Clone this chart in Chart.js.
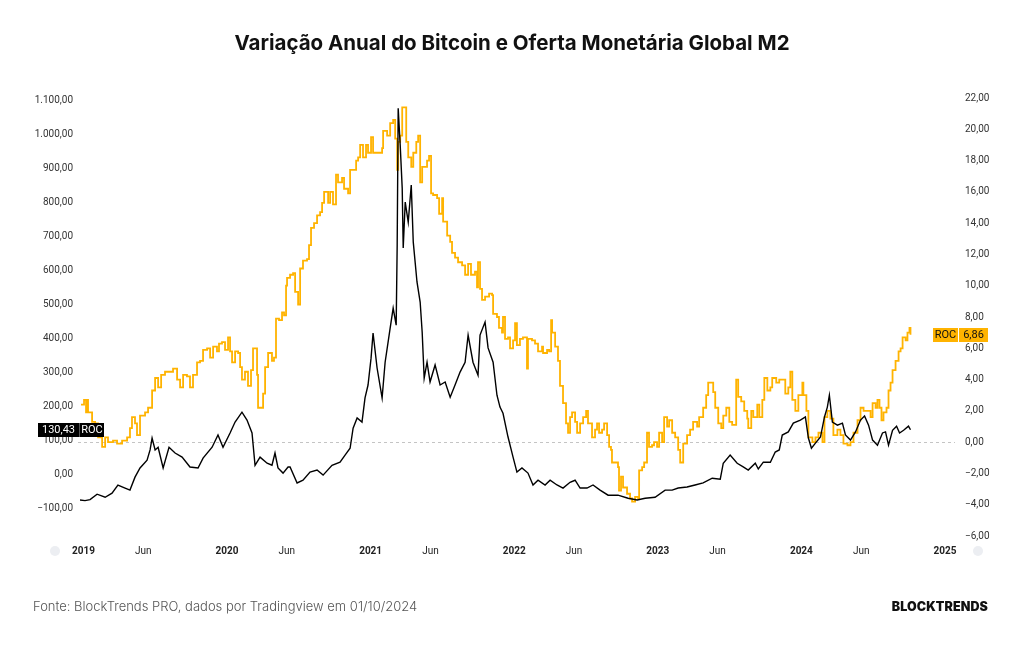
<!DOCTYPE html>
<html><head><meta charset="utf-8">
<script src="https://cdn.jsdelivr.net/npm/chart.js@4.4.1/dist/chart.umd.min.js"></script>
<style>
html,body{margin:0;padding:0;background:#fff;}
#wrap{position:relative;width:1024px;height:645px;overflow:hidden;background:#fff;}
#title{position:absolute;top:30px;left:0;width:1024px;text-align:center;font:700 20.5px Inter,sans-serif;color:#111;}
#src{position:absolute;left:33px;top:598px;font:300 13px Inter,sans-serif;color:#555;}
#brand{position:absolute;right:36px;top:599px;font:900 12.5px Inter,sans-serif;color:#111;letter-spacing:0.1px;}
#c{position:absolute;left:0;top:0;}
</style></head>
<body>
<div id="wrap">
<canvas id="c" width="1024" height="645"></canvas>
<div id="title">Variação Anual do Bitcoin e Oferta Monetária Global M2</div>
<div id="src">Fonte: BlockTrends PRO, dados por Tradingview em 01/10/2024</div>
<div id="brand">BLOCKTRENDS</div>
</div>
<script>
// Bitcoin ROC (annual % change) - left axis
const btcT = [2018.976,2019.011,2019.046,2019.095,2019.151,2019.199,2019.240,2019.290,2019.324,2019.359,2019.394,2019.443,2019.464,2019.478,2019.499,2019.520,2019.555,2019.596,2019.638,2019.687,2019.742,2019.798,2019.833,2019.896,2019.937,2019.972,
2020.021,2020.056,2020.104,2020.139,2020.174,2020.195,2020.230,2020.279,2020.313,2020.334,2020.355,2020.390,2020.425,2020.439,2020.488,2020.529,2020.578,2020.627,2020.669,2020.731,2020.787,2020.822,2020.857,2020.878,2020.906,2020.940,2020.961,2020.982,
2021.003,2021.017,2021.045,2021.080,2021.101,2021.136,2021.157,2021.178,2021.185,2021.192,2021.206,2021.220,2021.227,2021.241,2021.262,2021.283,2021.297,2021.323,2021.345,2021.359,2021.373,2021.393,2021.414,2021.449,2021.484,2021.519,2021.554,2021.588,2021.623,2021.658,2021.679,2021.713,2021.748,2021.762,2021.797,2021.818,2021.853,2021.880,2021.901,2021.922,2021.957,2021.992,
2022.019,2022.054,2022.096,2022.131,2022.166,2022.215,2022.250,2022.298,2022.340,2022.389,2022.424,2022.459,2022.507,2022.549,2022.598,2022.654,2022.723,2022.793,2022.856,2022.912,2022.981,
2023.051,2023.100,2023.142,2023.204,2023.260,2023.316,2023.379,2023.435,2023.456,2023.504,2023.553,2023.595,2023.630,2023.679,2023.700,2023.735,2023.784,2023.818,2023.846,2023.867,2023.909,2023.944,2023.993,
2024.028,2024.049,2024.070,2024.098,2024.133,2024.161,2024.181,2024.195,2024.216,2024.251,2024.286,2024.307,2024.342,2024.377,2024.412,2024.440,2024.468,2024.496,2024.530,2024.565,2024.586,2024.607,2024.635,2024.663,2024.684,2024.712,2024.746,2024.760];
const btcRoc = [-76,-78,-75,-59,-68,-56,-32,-41,-47,-9,18,41,71,106,71,79,18,79,62,50,21,18,47,79,115,79,
121,153,182,159,121,26,50,32,26,62,18,3,21,21,-26,-18,6,12,-3,26,35,56,76,135,165,153,224,262,
341,415,312,224,329,429,488,438,674,1076,968,841,665,800,741,850,682,565,506,418,282,329,271,321,262,271,226,262,300,329,409,329,291,409,447,371,329,232,197,179,109,50,
6,18,3,-32,-18,-32,-18,-32,-41,-24,-18,-41,-41,-32,-47,-62,-62,-71,-76,-71,-68,
-47,-47,-41,-38,-32,-26,-12,-15,32,56,32,21,12,32,15,35,35,65,71,115,124,150,159,
168,106,76,91,109,168,197,232,153,144,150,115,100,124,159,171,144,100,85,121,124,85,129,141,121,129,141,130.43];

// Global M2 ROC (annual % change) - right axis
const m2T = [2018.983,2019.004,2019.018,2019.025,2019.032,2019.060,2019.081,2019.102,2019.130,2019.151,2019.171,2019.206,2019.234,2019.269,2019.304,2019.324,2019.338,2019.359,2019.373,2019.394,2019.429,2019.450,2019.478,2019.499,2019.520,2019.541,2019.568,2019.624,2019.652,2019.673,2019.694,2019.721,2019.742,2019.763,2019.791,2019.812,2019.833,2019.861,2019.882,2019.903,2019.930,2019.944,2019.965,2019.986,
2020.007,2020.021,2020.035,2020.056,2020.077,2020.091,2020.104,2020.125,2020.146,2020.167,2020.181,2020.209,2020.216,2020.251,2020.265,2020.286,2020.313,2020.327,2020.341,2020.362,2020.383,2020.397,2020.411,2020.418,2020.439,2020.460,2020.474,2020.495,2020.509,2020.529,2020.557,2020.571,2020.585,2020.606,2020.627,2020.648,2020.662,2020.676,2020.704,2020.718,2020.738,2020.759,2020.773,2020.801,2020.815,2020.843,2020.857,2020.899,2020.913,2020.927,2020.947,2020.968,2020.982,
2021.003,2021.017,2021.080,2021.087,2021.115,2021.136,2021.157,2021.171,2021.185,2021.192,2021.206,2021.220,2021.248,2021.262,2021.283,2021.297,2021.318,2021.331,2021.345,2021.359,2021.393,2021.407,2021.421,2021.435,2021.463,2021.477,2021.498,2021.505,2021.533,2021.554,2021.567,2021.588,2021.609,2021.637,2021.658,2021.679,2021.699,2021.727,2021.741,2021.748,2021.762,2021.776,2021.797,2021.825,2021.846,2021.853,2021.880,2021.894,2021.915,2021.922,2021.936,2021.957,2021.971,2021.992,
2022.006,2022.019,2022.040,2022.061,2022.089,2022.096,2022.124,2022.145,2022.166,2022.194,2022.201,2022.229,2022.243,2022.257,2022.264,2022.285,2022.305,2022.319,2022.340,2022.361,2022.375,2022.389,2022.403,2022.424,2022.438,2022.459,2022.480,2022.501,2022.514,2022.542,2022.563,2022.577,2022.591,2022.612,2022.626,2022.647,2022.661,2022.674,2022.681,2022.723,2022.730,2022.744,2022.758,2022.786,2022.807,2022.821,2022.842,2022.863,2022.870,2022.891,2022.905,2022.925,2022.939,2022.960,2022.974,2022.995,
2023.009,2023.030,2023.044,2023.065,2023.079,2023.100,2023.121,2023.142,2023.156,2023.177,2023.204,2023.225,2023.246,2023.274,2023.288,2023.316,2023.337,2023.351,2023.386,2023.400,2023.421,2023.442,2023.456,2023.477,2023.498,2023.518,2023.546,2023.560,2023.581,2023.602,2023.623,2023.630,2023.651,2023.665,2023.693,2023.707,2023.728,2023.742,2023.763,2023.784,2023.797,2023.825,2023.846,2023.888,2023.909,2023.923,2023.937,2023.958,2023.979,
2024.007,2024.014,2024.035,2024.049,2024.077,2024.098,2024.119,2024.147,2024.161,2024.181,2024.202,2024.223,2024.251,2024.272,2024.293,2024.321,2024.342,2024.363,2024.391,2024.412,2024.433,2024.482,2024.496,2024.517,2024.530,2024.544,2024.558,2024.572,2024.593,2024.607,2024.621,2024.635,2024.656,2024.677,2024.691,2024.705,2024.726,2024.739,2024.753,2024.760];
const m2Roc = [2.4,2.7,1.9,2.7,1.9,1.3,1.2,0.3,-0.3,0.3,0.0,0.1,-0.1,0.1,0.3,0.9,1.6,1.2,0.45,1.7,1.9,2.2,3.3,4.1,3.5,4.3,4.5,4.7,4.0,3.5,4.3,4.2,3.5,4.3,5.1,5.2,5.9,6.0,5.4,6.1,5.8,6.3,6.4,5.9,
6.7,5.8,5.1,5.8,5.7,4.8,4.0,4.5,3.6,4.6,6.0,4.3,2.2,3.1,4.8,5.7,5.2,5.4,7.9,7.8,8.3,8.1,10.0,10.5,10.7,10.8,9.6,8.8,11.1,11.6,11.7,12.6,13.7,14.0,14.5,14.7,15.3,16.0,15.3,16.0,15.2,17.1,16.6,16.9,16.2,15.9,17.4,18.0,18.2,19.0,18.2,19.0,18.5,
19.5,18.5,18.8,19.9,19.6,20.4,20.6,19.4,17.4,19.2,19.6,21.4,19.2,18.2,17.6,18.5,19.2,19.6,16.6,17.6,18.0,18.3,15.9,15.8,15.6,14.6,15.6,14.1,13.2,12.8,12.1,11.8,11.5,11.3,10.7,11.4,10.7,10.9,9.9,11.5,9.8,9.1,9.3,9.5,9.4,8.2,8.0,7.3,7.0,8.0,6.6,6.7,6.0,6.5,
7.6,6.2,6.6,6.7,4.7,6.6,6.5,6.3,5.8,6.1,5.7,5.9,5.8,7.8,7.0,6.1,5.2,3.6,2.5,1.2,0.6,1.6,1.9,1.3,0.6,1.2,1.6,2.0,1.2,0.3,0.8,1.2,0.6,0.8,1.2,0.45,-0.3,-0.5,-1.3,-1.6,-3.1,-2.2,-2.9,-3.3,-3.6,-3.8,-3.5,-3.6,-1.8,-1.6,-1.3,0.6,-0.3,-0.2,0.0,-0.3,
0.6,0.0,1.6,1.0,1.4,0.6,0.3,-0.5,-1.3,-0.1,0.45,0.8,1.3,1.0,1.6,2.2,3.0,3.8,3.2,2.2,1.2,0.9,1.7,2.2,1.3,1.1,4.0,2.9,2.6,2.0,1.5,0.9,2.0,1.6,2.4,1.6,2.7,4.1,3.3,3.5,4.1,3.8,4.0,3.1,3.5,4.5,2.7,2.0,3.0,
3.8,3.0,2.0,0.3,0.0,0.3,0.6,0.0,1.6,2.0,1.5,0.45,0.8,0.45,-0.1,-0.2,0.0,0.6,1.4,2.2,2.0,1.6,2.5,2.2,2.7,2.2,1.4,1.9,2.2,3.3,3.8,4.6,5.2,5.8,6.0,6.7,6.5,7.0,7.3,6.86];

// Axis ticks
const leftTicks = [-100,0,100,200,300,400,500,600,700,800,900,1000,1100];
const rightTicks = [-6,-4,-2,0,2,4,6,8,10,12,14,16,18,20,22];
const xTicks = [2019,2019+5/12,2020,2020+5/12,2021,2021+5/12,2022,2022+5/12,2023,2023+5/12,2024,2024+5/12,2025];

const YELLOW = '#FFB300';
const nf = new Intl.NumberFormat('pt-BR',{minimumFractionDigits:2,maximumFractionDigits:2});
const fmt = v => nf.format(v).replace('-', '\u2212');

const tickFont = {family:'Roboto, "Noto Sans", sans-serif', size:10};

const extras = {
  id:'extras',
  beforeDatasetsDraw(chart){
    const {ctx, chartArea:a, scales} = chart;
    const y0 = scales.yR.getPixelForValue(0);
    ctx.save();
    ctx.strokeStyle = '#c4c4c4'; ctx.lineWidth = 1; ctx.setLineDash([3,3]);
    ctx.beginPath(); ctx.moveTo(a.left, Math.round(y0)+0.5); ctx.lineTo(a.right, Math.round(y0)+0.5); ctx.stroke();
    ctx.restore();
  },
  afterDraw(chart){
    const {ctx, scales} = chart;
    ctx.save();
    ctx.font = '11px Roboto, "Noto Sans", sans-serif';
    ctx.textBaseline = 'middle'; ctx.textAlign = 'center';
    // left label (BTC)
    const lastB = btcRoc[btcRoc.length-1];
    const yb = Math.round(scales.yL.getPixelForValue(lastB));
    ctx.fillStyle = '#000';
    ctx.fillRect(38, yb-7, 41, 14);
    ctx.fillRect(80, yb-7, 24, 14);
    ctx.fillStyle = '#555'; ctx.fillRect(79, yb-7, 1, 14);
    ctx.fillStyle = '#fff';
    ctx.fillText(fmt(lastB), 58.5, yb+0.5);
    ctx.fillText('ROC', 92, yb+0.5);
    // right label (M2)
    const lastM = m2Roc[m2Roc.length-1];
    const ym = Math.round(scales.yR.getPixelForValue(lastM));
    ctx.fillStyle = YELLOW;
    ctx.fillRect(933, ym-7, 25, 14);
    ctx.fillRect(959, ym-7, 29, 14);
    ctx.fillStyle = '#111';
    ctx.fillText('ROC', 945.5, ym+0.5);
    ctx.fillText(fmt(lastM), 973.5, ym+0.5);
    // small corner icons
    [[55,551],[978,551]].forEach(([x,y])=>{
      ctx.fillStyle = '#eceef2';
      ctx.beginPath(); ctx.arc(x,y,5,0,Math.PI*2); ctx.fill();
    });
    ctx.restore();
  }
};

const cfg = {
  type:'line',
  data:{datasets:[
    {label:'BTC ROC', data: btcT.map((t,i)=>({x:t,y:btcRoc[i]})), yAxisID:'yL',
     borderColor:'#000', borderWidth:1.4, pointRadius:0, tension:0, order:0},
    {label:'M2 ROC', data: m2T.map((t,i)=>({x:t,y:m2Roc[i]})), yAxisID:'yR',
     borderColor:YELLOW, borderWidth:1.8, pointRadius:0, stepped:true, order:1}
  ]},
  options:{
    responsive:false, animation:false,
    layout:{padding:{top:98,bottom:79,left:0,right:0}},
    plugins:{legend:{display:false}, tooltip:{enabled:false}},
    scales:{
      x:{type:'linear', min:2018.962, max:2025.07,
        grid:{display:false, drawTicks:false}, border:{display:false},
        afterBuildTicks(s){ s.ticks = xTicks.map(v=>({value:v})); },
        afterFit(s){ s.height = 30; },
        ticks:{padding:9, color:'#222', maxRotation:0, autoSkip:false,
          font:(c)=>({...tickFont, weight: Number.isInteger(c.tick && c.tick.value) ? 'bold':'normal'}),
          callback:(v)=> Number.isInteger(v) ? String(v) : 'Jun'}
      },
      yL:{type:'linear', position:'left', min:-182, max:1106,
        grid:{display:false, drawTicks:false}, border:{display:false},
        afterBuildTicks(s){ s.ticks = leftTicks.map(v=>({value:v})); },
        afterFit(s){ s.width = 78; },
        ticks:{padding:5, color:'#333', font:tickFont, callback:(v)=>fmt(v)}
      },
      yR:{type:'linear', position:'right', min:-6, max:22,
        grid:{display:false, drawTicks:false}, border:{display:false},
        afterBuildTicks(s){ s.ticks = rightTicks.map(v=>({value:v})); },
        afterFit(s){ s.width = 69; },
        ticks:{padding:10, color:'#333', font:tickFont, callback:(v)=>fmt(v)}
      }
    }
  },
  plugins:[extras]
};
new Chart(document.getElementById('c'), cfg);
</script>
</body></html>
